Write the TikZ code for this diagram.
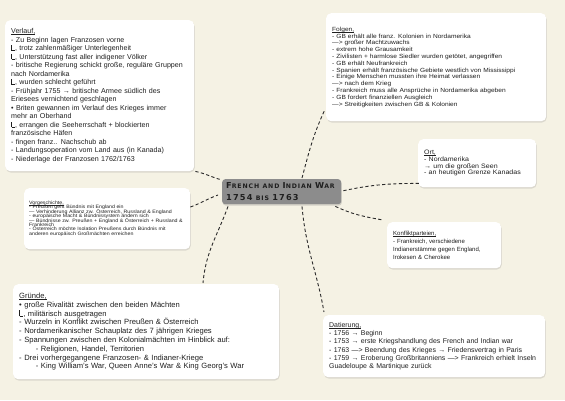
\documentclass[tikz,border=0pt]{standalone}
\usepackage{fontspec}
\setmainfont{Liberation Sans}
\newfontfamily\widefont[FakeStretch=1.1]{Liberation Sans}
\newfontfamily\titlefont[LetterSpace=14]{DejaVu Sans}
\usetikzlibrary{shadows, positioning}
\definecolor{mapBg}{HTML}{F5F2E4}
\definecolor{mapGray}{HTML}{8C8C8C}
\definecolor{mapInk}{HTML}{1F1F1F}
\definecolor{mapLine}{HTML}{2A2A2A}
% small right-angle hook used in the notes
\newcommand\winkel{{\vrule width .35pt height 1.45ex depth 0pt\rule{.5em}{.35pt}}}
% underlined heading with a thin rule
\newcommand\kopf[1]{\setbox0\hbox{#1}\rlap{\rule[-0.9pt]{\wd0}{0.35pt}}\box0}
% font size with tight leading
\newcommand\notesize[2]{\fontsize{#1}{#2}\selectfont\lineskiplimit=-20pt\relax}
% fake small caps for the title
\newcommand\tcap[2]{{\fontsize{8.2}{9}\selectfont#1}{\fontsize{6.2}{9}\selectfont#2}}
\tikzset{
  infobox/.style={rectangle, rounded corners=5pt, fill=white, anchor=north west,
                  align=left, inner xsep=6pt, inner ysep=4pt, text=mapInk,
                  drop shadow={opacity=0.22, shadow xshift=0.6pt, shadow yshift=-1.4pt}},
  titlebox/.style={rectangle, rounded corners=3pt, fill=mapGray, anchor=north west,
                   align=left, inner xsep=4pt, inner ysep=3pt, text=mapInk,
                   font=\titlefont\bfseries,
                   drop shadow={opacity=0.3, shadow xshift=0.6pt, shadow yshift=-1.4pt}},
  branch/.style={draw=mapLine, line width=0.9pt, dash pattern=on 3.2pt off 2.4pt},
}

\begin{document}
\begin{tikzpicture}[x=1pt, y=1pt]
  \useasboundingbox (0,0) rectangle (565,-400);
  \fill[mapBg] (0,0) rectangle (565,-400);

  \node[infobox, text width=177pt, minimum height=151pt,
        font=\notesize{7.1}{8.5}] (verlauf) at (5,-20)
    {\kopf{Verlauf,}\\
     - Zu Beginn lagen Franzosen vorne\\
     \winkel, trotz zahlenmäßiger Unterlegenheit\\
     \winkel, Unterstützung fast aller indigener Völker\\
     - britische Regierung schickt große, reguläre Gruppen\\
     nach Nordamerika\\
     \winkel, wurden schlecht geführt\\
     - Frühjahr 1755 → britische Armee südlich des\\
     Eriesees vernichtend geschlagen\\
     • Briten gewannen im Verlauf des Krieges immer\\
     mehr an Oberhand\\
     \winkel, errangen die Seeherrschaft + blockierten\\
     französische Häfen\\
     - fingen franz.. Nachschub ab\\
     - Landungsoperation vom Land aus (in Kanada)\\
     - Niederlage der Franzosen 1762/1763};

  \node[infobox, text width=156pt, inner xsep=5pt, minimum height=61pt,
        font=\widefont\notesize{4.8}{4.4}] (vorg) at (24,-188)
    {\kopf{Vorgeschichte,}\\
     - Preußen geht Bündnis mit England ein\\
     — Verhinderung Allianz zw. Österreich, Russland \& England\\
     - europäische Macht \& Bündnissystem ändern sich\\
     — Bündnisse zw. Preußen + England \& Österreich + Russland \&\\
     Frankreich\\
     - Österreich möchte Isolation Preußens durch Bündnis mit\\
     anderen europäisch Großmächten erreichen};

  \node[infobox, text width=254pt, minimum height=95pt,
        font=\notesize{7.6}{8.8}] (gruende) at (13,-284)
    {\kopf{Gründe,}\\
     • große Rivalität zwischen den beiden Mächten\\
     \winkel, militärisch ausgetragen\\
     - Wurzeln in Konflikt zwischen Preußen \& Österreich\\
     - Nordamerikanischer Schauplatz des 7 jährigen Krieges\\
     - Spannungen zwischen den Kolonialmächten im Hinblick auf:\\
     \hspace*{2.2em}- Religionen, Handel, Territorien\\
     - Drei vorhergegangene Franzosen- \& Indianer-Kriege\\
     \hspace*{2.2em}- King William's War, Queen Anne's War \& King Georg's War};

  \node[infobox, text width=208pt, minimum height=108pt,
        font=\widefont\notesize{6}{6.8}] (folgen) at (326,-13)
    {\kopf{Folgen,}\\
     - GB erhält alle franz. Kolonien in Nordamerika\\
     —> großer Machtzuwachs\\
     - extrem hohe Grausamkeit\\
     - Zivilisten + harmlose Siedler wurden getötet, angegriffen\\
     - GB erhält Neufrankreich\\
     - Spanien erhält französische Gebiete westlich von Mississippi\\
     - Einige Menschen mussten ihre Heimat verlassen\\
     —> nach dem Krieg\\
     - Frankreich muss alle Ansprüche in Nordamerika abgeben\\
     - GB fordert finanziellen Ausgleich\\
     —> Streitigkeiten zwischen GB \& Kolonien};

  \node[infobox, text width=106pt, minimum height=48pt,
        font=\widefont\notesize{6.4}{6.8}] (ort) at (418,-139)
    {\kopf{Ort,}\\
     - Nordamerika\\
     → um die großen Seen\\
     - an heutigen Grenze Kanadas};

  \node[infobox, text width=102pt, minimum height=46pt,
        font=\notesize{6}{7.8}] (partei) at (387,-222)
    {\kopf{Konfliktparteien,}\\
     - Frankreich, verschiedene\\
     Indianerstämme gegen England,\\
     Irokesen \& Cherokee};

  \node[infobox, text width=210pt, minimum height=62pt,
        font=\notesize{6.95}{8.3}] (datierung) at (323,-315)
    {\kopf{Datierung,}\\
     - 1756 → Beginn\\
     - 1753 → erste Kriegshandlung des French and Indian war\\
     - 1763 —> Beendung des Krieges → Friedensvertrag in Paris\\
     - 1759 → Eroberung Großbritanniens —> Frankreich erhielt Inseln\\
     Guadeloupe \& Martinique zurück};

  \node[titlebox, text width=111pt, minimum height=25pt] (war) at (222,-179)
    {\mbox{\tcap{F}{RENCH} \tcap{}{AND} \tcap{I}{NDIAN} \tcap{W}{AR}}\\
     \mbox{\tcap{1754}{} \tcap{}{BIS} \tcap{1763}{}}};

  % branches
  \draw[branch] ([xshift=1pt]verlauf.south east) to[out=-12, in=165] ([yshift=-1pt]war.north west);
  \draw[branch] ([yshift=-19pt]vorg.north east) to[out=20, in=200] ([xshift=-4pt, yshift=-16pt]war.north west);
  \draw[branch] ([xshift=6pt, yshift=-2pt]war.south west) to[out=-110, in=85] ([xshift=190pt, yshift=1pt]gruende.north west);
  \draw[branch] ([xshift=80pt, yshift=1pt]war.north west) to[out=75, in=-115] ([xshift=-1pt, yshift=12pt]folgen.south west);
  \draw[branch] ([xshift=2pt, yshift=1pt]war.east) to[out=12, in=180] ([xshift=2pt, yshift=4pt]ort.south west);
  \draw[branch] ([xshift=-6pt, yshift=-2pt]war.south east) to[out=-25, in=170] ([xshift=-4pt, yshift=2pt]partei.north west);
  \draw[branch] ([xshift=80pt, yshift=-2pt]war.south west) to[out=-85, in=100] ([xshift=1pt, yshift=3pt]datierung.north west);
\end{tikzpicture}
\end{document}
